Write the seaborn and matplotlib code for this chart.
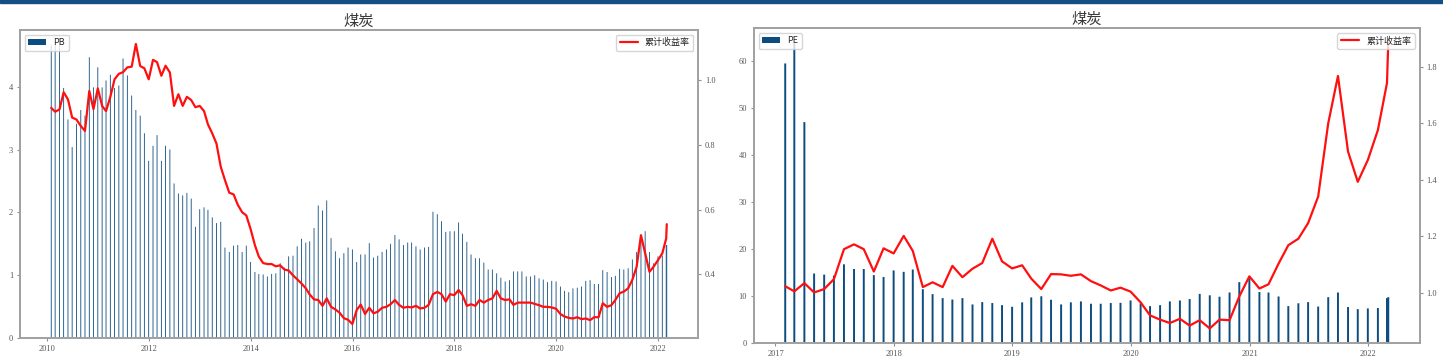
import matplotlib
matplotlib.use("Agg")
import matplotlib.pyplot as plt
from matplotlib.patches import Rectangle
import pandas as pd
import seaborn as sns

# ---------------- data ----------------
left_dates = list(pd.period_range("2010-01", "2022-02", freq="M").to_timestamp(how="end").normalize()) + [pd.Timestamp("2022-03-04")]
right_dates = list(pd.period_range("2017-01", "2022-02", freq="M").to_timestamp(how="end").normalize()) + [pd.Timestamp("2022-03-04")]

pb_values = [
    4.67, 4.67, 4.67, 3.98, 3.48, 3.04, 3.41, 3.63, 3.54, 4.47, 3.99, 4.31, 3.99, 4.10, 4.19,
    3.98, 4.02, 4.45, 4.18, 3.86, 3.63, 3.54, 3.26, 2.82, 3.06, 3.23, 2.82, 3.06, 3.00,
    2.46, 2.30, 2.27, 2.31, 2.22, 1.77, 2.05, 2.08, 2.04, 1.92,
    1.83, 1.85, 1.44, 1.37, 1.47, 1.48, 1.37, 1.47, 1.21, 1.05,
    1.02, 1.01, 0.98, 1.02, 1.03, 1.19, 1.12, 1.30, 1.31, 1.46,
    1.58, 1.52, 1.54, 1.75, 2.11, 2.03, 2.19, 1.59, 1.38, 1.27,
    1.35, 1.44, 1.41, 1.21, 1.33, 1.33, 1.51, 1.28, 1.31, 1.37,
    1.41, 1.50, 1.64, 1.57, 1.48, 1.52, 1.52, 1.46, 1.41, 1.44,
    1.45, 2.01, 1.97, 1.86, 1.69, 1.70, 1.70, 1.84, 1.66, 1.53,
    1.33, 1.27, 1.27, 1.20, 1.09, 1.09, 1.03, 0.96, 0.90, 0.92,
    1.06, 1.06, 1.06, 0.98, 0.98, 1.00, 0.95, 0.93, 0.89, 0.91,
    0.90, 0.82, 0.75, 0.73, 0.79, 0.80, 0.82, 0.91, 0.92, 0.86,
    0.86, 1.08, 1.05, 0.97, 0.99, 1.10, 1.09, 1.11, 1.25, 1.37,
    1.60, 1.70, 1.37, 1.19, 1.30, 1.31, 1.48, 1.48,
]

left_return = [
    0.914, 0.902, 0.909, 0.962, 0.940, 0.884, 0.878, 0.858, 0.843, 0.966,
    0.910, 0.974, 0.920, 0.904, 0.948, 1.002, 1.019, 1.024, 1.039, 1.041,
    1.111, 1.043, 1.036, 1.002, 1.062, 1.055, 1.013, 1.044, 1.023, 0.920,
    0.956, 0.920, 0.948, 0.938, 0.916, 0.920, 0.904, 0.863, 0.835, 0.804,
    0.732, 0.691,
    0.652, 0.647, 0.615, 0.592, 0.582, 0.540, 0.490, 0.455, 0.435, 0.432,
    0.432, 0.425, 0.428, 0.415, 0.412, 0.397, 0.385, 0.372, 0.357, 0.338,
    0.323, 0.321, 0.303, 0.326, 0.300, 0.292, 0.282, 0.265, 0.260, 0.247,
    0.290, 0.307, 0.278, 0.297, 0.280, 0.285, 0.297, 0.300, 0.308, 0.321,
    0.306, 0.297, 0.300, 0.298, 0.303, 0.295, 0.297, 0.306, 0.339, 0.346,
    0.339, 0.316, 0.339, 0.336, 0.352, 0.336, 0.303, 0.308, 0.303, 0.321,
    0.313, 0.321, 0.326, 0.349, 0.326, 0.321, 0.323, 0.306, 0.313, 0.313,
    0.313, 0.313, 0.309, 0.305, 0.300, 0.300, 0.298, 0.294, 0.278, 0.270,
    0.266, 0.264, 0.268, 0.262, 0.264, 0.259, 0.268, 0.268, 0.311, 0.300,
    0.305, 0.321, 0.342, 0.347, 0.357, 0.383, 0.424, 0.521, 0.465, 0.408,
    0.424, 0.444, 0.465, 0.511, 0.555,
]

pe_values = [
    59.5, 63.8, 47.0, 14.75, 14.5, 14.3, 16.7, 15.7, 15.7, 14.4,
    14.0, 15.4, 15.1, 15.6, 11.4, 10.35, 9.5, 9.2, 9.5, 8.15,
    8.65, 8.45, 8.0, 7.65, 8.6, 9.65, 9.9, 9.15, 8.15, 8.6,
    8.8, 8.3, 8.3, 8.45, 8.5, 9.0, 8.4, 7.8, 8.0, 8.8,
    9.0, 9.3, 10.4, 10.1, 9.8, 10.7, 12.9, 13.75, 10.8, 10.7,
    9.85, 7.8, 8.4, 8.65, 7.7, 9.7, 10.7, 7.6, 7.15, 7.3,
    7.4, 9.5, 9.7,
]

right_return = [
    1.024, 1.006, 1.035, 1.002, 1.014, 1.049, 1.155, 1.172, 1.155, 1.076,
    1.158, 1.140, 1.202, 1.149, 1.021, 1.038, 1.021, 1.096, 1.056, 1.086,
    1.106, 1.192, 1.112, 1.087, 1.098, 1.051, 1.014, 1.067, 1.066, 1.061,
    1.066, 1.042, 1.027, 1.009, 1.019, 1.005, 0.967, 0.921, 0.906, 0.894,
    0.909, 0.885, 0.904, 0.875, 0.906, 0.904, 0.988, 1.059, 1.016, 1.031,
    1.104, 1.169, 1.192, 1.247, 1.341, 1.600, 1.767, 1.500, 1.393, 1.470,
    1.576, 1.742, 1.885,
]

title_text = "煤炭"
bar_labels = ["PB", "PE"]
line_label = "累计收益率"

# ---------------- style ----------------
sns.set_style("ticks", rc={
    "axes.edgecolor": "#a0a0a0",
    "xtick.color": "#909090",
    "ytick.color": "#909090",
})
plt.rcParams.update({
    "axes.linewidth": 1.2,
    "xtick.labelcolor": "#555555",
    "ytick.labelcolor": "#555555",
    "xtick.major.size": 2.5,
    "ytick.major.size": 2.5,
    "xtick.major.width": 0.8,
    "ytick.major.width": 0.8,
    "xtick.major.pad": 2.5,
    "ytick.major.pad": 2.5,
    "xtick.labelsize": 6,
    "ytick.labelsize": 6,
})
plt.rcParams["font.family"] = ["Liberation Serif", "Noto Sans CJK SC", "DejaVu Sans"]
plt.rcParams["axes.unicode_minus"] = False

BAR_COLOR = "#0d4c7f"
W, H = 1443, 363
fig = plt.figure(figsize=(W / 100, H / 100), dpi=100)
fig.patches.append(Rectangle((0, 1 - 3 / H), 1, 3 / H, transform=fig.transFigure,
                             color="#134e84", zorder=10))

ax_l = fig.add_axes([20 / W, 1 - 338 / H, (698 - 20) / W, (338 - 30) / H])
ax_r = fig.add_axes([754 / W, 1 - 342.7 / H, (1419.5 - 754) / W, (342.7 - 28.3) / H])

cjk = {"family": ["Noto Sans CJK SC", "DejaVu Sans"], "size": 6.5}


def panel(ax, dates, bars, line, bar_label, bar_width):
    ax.bar(dates, bars, width=bar_width, color=BAR_COLOR, linewidth=0,
           label=bar_label, snap=False)
    axt = ax.twinx()
    df = pd.DataFrame({"date": dates, "ret": line})
    sns.lineplot(data=df, x="date", y="ret", ax=axt, color="#ff1010",
                 linewidth=1.6, label=line_label, legend=False)
    axt.set_xlabel("")
    axt.set_ylabel("")
    ax.set_xlabel("")
    ax.set_ylabel("")
    ax.legend(loc="upper left", prop=cjk, handlelength=2.0)
    axt.legend(loc="upper right", prop=cjk, handlelength=2.0)
    ax.set_title(title_text, family=["Noto Sans CJK SC"], fontsize=11,
                 color="#3a3a3a", pad=3)
    return axt


panel(ax_l, left_dates, pb_values, left_return, bar_labels[0], 6)
panel(ax_r, right_dates, pe_values, right_return, bar_labels[1], 6)

fig.savefig("out.png", dpi=100)
